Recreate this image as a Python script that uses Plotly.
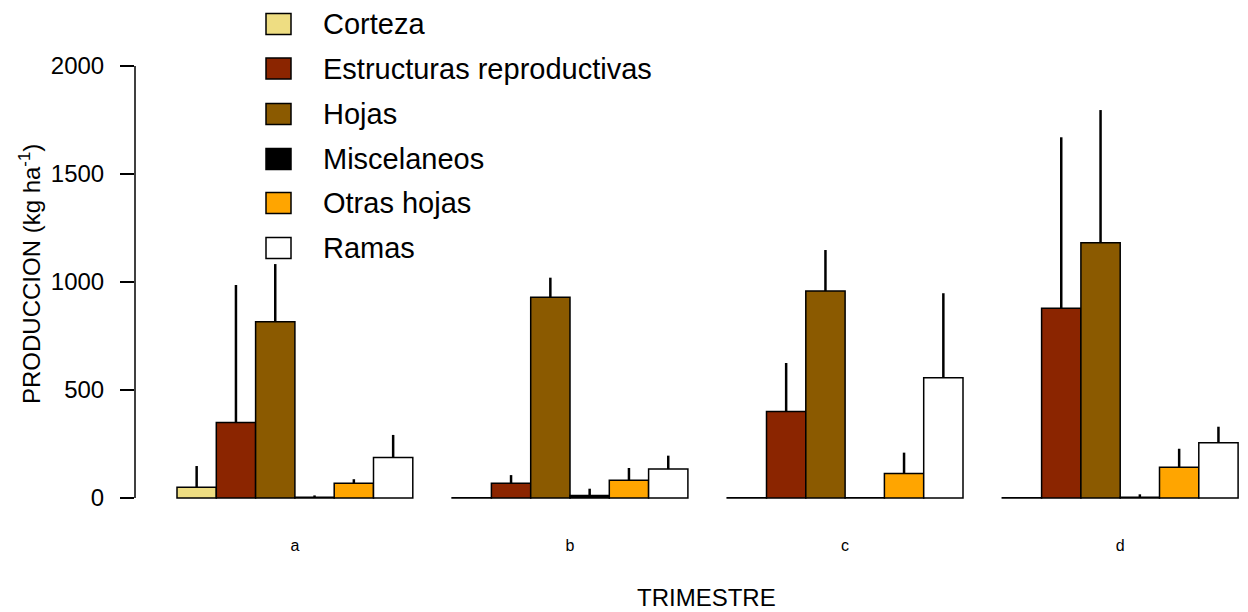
import plotly.graph_objects as go

# ---------------- data ----------------
trimestres = ["a", "b", "c", "d"]
series = ["Corteza", "Estructuras reproductivas", "Hojas", "Miscelaneos", "Otras hojas", "Ramas"]
colors = ["#EEDD82", "#8B2500", "#8B5A00", "#000000", "#FFA500", "#FFFFFF"]

corteza = [50, 1, 1, 1]
corteza_sd = [98, 2, 3, 3]
estructuras = [350, 68, 400, 878]
estructuras_sd = [636, 38, 225, 792]
hojas = [816, 929, 958, 1182]
hojas_sd = [267, 91, 190, 614]
misc = [3, 12, 1, 4]
misc_sd = [9, 31, 2, 13]
otras = [68, 82, 113, 142]
otras_sd = [19, 57, 97, 86]
ramas = [187, 134, 557, 256]
ramas_sd = [105, 62, 391, 74]

y_ticks = [0, 500, 1000, 1500, 2000]
y_title = "PRODUCCION (kg ha<sup>-1</sup>)"
x_title = "TRIMESTRE"

values = [corteza, estructuras, hojas, misc, otras, ramas]
sds = [corteza_sd, estructuras_sd, hojas_sd, misc_sd, otras_sd, ramas_sd]

# ---------------- layout geometry ----------------
W, H = 1248, 612
L, R, T, B = 135, 0, 0, 97
PW, PH = W - L - R, H - T - B
FONT = "Liberation Sans, Arial, Helvetica, sans-serif"

n_series = len(series)
group_step = n_series + 1  # one empty bar slot between groups


def px2x(px):
    return (px - L) / PW


def px2y(py):
    return (H - B - py) / PH


fig = go.Figure()
for s, (name, vals, sd, col) in enumerate(zip(series, values, sds, colors)):
    xs = [1.5 + group_step * g + s for g in range(len(trimestres))]
    fig.add_trace(go.Bar(
        x=xs, y=vals, width=1.0, name=name,
        marker=dict(color=col, line=dict(color="black", width=1.5)),
        error_y=dict(type="data", symmetric=False, array=sd,
                     arrayminus=[0] * len(sd), width=0, thickness=2.5,
                     color="black"),
        showlegend=False,
    ))

group_centers = [1 + group_step * g + n_series / 2 for g in range(len(trimestres))]

# y-axis line spanning only the tick range (R style)
fig.add_shape(type="line", xref="paper", yref="y", x0=0, x1=0,
              y0=y_ticks[0], y1=y_ticks[-1], line=dict(color="black", width=1.5))

# manual legend (R style)
leg_centers = [24, 68.5, 114, 159, 203, 248]
for name, col, cy in zip(series, colors, leg_centers):
    fig.add_shape(type="rect", xref="paper", yref="paper",
                  x0=px2x(266), x1=px2x(291), y0=px2y(cy + 10.5), y1=px2y(cy - 10.5),
                  fillcolor=col, line=dict(color="black", width=1.5))
    fig.add_annotation(x=px2x(321), y=px2y(cy), xref="paper", yref="paper",
                       text=name, showarrow=False, xanchor="left", yanchor="middle",
                       font=dict(size=29, color="black", family=FONT))

# axis titles
fig.add_annotation(x=px2x(30), y=px2y(274), xref="paper", yref="paper",
                   text=y_title, textangle=-90, showarrow=False,
                   xanchor="center", yanchor="middle",
                   font=dict(size=24, color="black", family=FONT))
fig.add_annotation(x=px2x(706), y=px2y(597), xref="paper", yref="paper",
                   text=x_title, showarrow=False, xanchor="center", yanchor="middle",
                   font=dict(size=24, color="black", family=FONT))

unit_px = 39.3
x_origin_px = 137.7
y0_px, y2000_px = 498, 66
ppu = (y0_px - y2000_px) / 2000.0

fig.update_layout(
    width=W, height=H,
    margin=dict(l=L, r=R, t=T, b=B, pad=0),
    barmode="overlay",
    plot_bgcolor="white", paper_bgcolor="white",
    font=dict(family=FONT, color="black"),
    xaxis=dict(
        range=[(L - x_origin_px) / unit_px, (W - R - x_origin_px) / unit_px],
        tickvals=group_centers, ticktext=trimestres,
        ticks="", showline=False, showgrid=False, zeroline=False,
        tickfont=dict(size=16, color="black", family=FONT),
        ticklabelstandoff=19,
    ),
    yaxis=dict(
        range=[-(H - B - y0_px) / ppu, y0_px / ppu],
        tickvals=y_ticks, ticktext=[str(v) for v in y_ticks],
        ticks="outside", ticklen=14, tickwidth=1.5, tickcolor="black",
        showline=False, showgrid=False, zeroline=False,
        tickfont=dict(size=24, color="black", family=FONT),
        ticklabelstandoff=11,
    ),
)

fig.write_html("out.html")
